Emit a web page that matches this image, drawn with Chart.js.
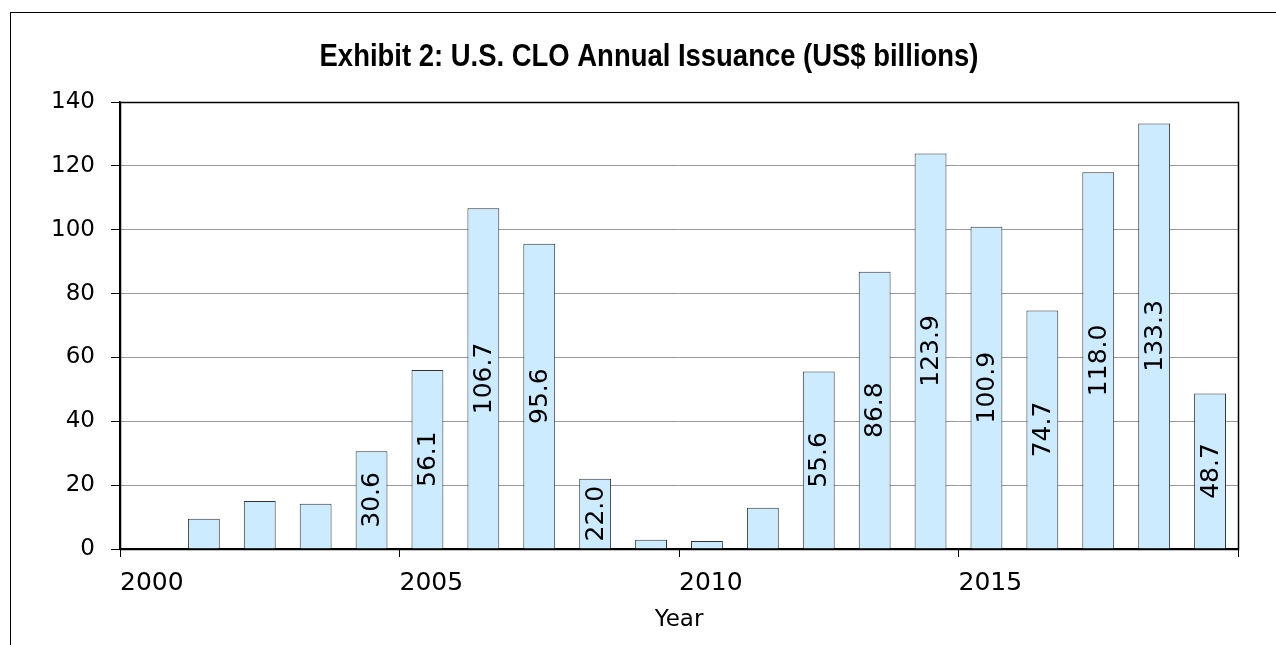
<!DOCTYPE html>
<html>
<head>
<meta charset="utf-8">
<script src="https://cdn.jsdelivr.net/npm/chart.js@4.4.1/dist/chart.umd.min.js"></script>
<style>
html,body{margin:0;padding:0;background:#fff;overflow:hidden;}
#wrap{position:absolute;left:0;top:0;width:1276px;height:645px;}
</style>
</head>
<body>
<div id="wrap"><canvas id="c" width="1276" height="645"></canvas></div>
<script>
const titleText = 'Exhibit 2: U.S. CLO Annual Issuance (US$ billions)';
const xAxisTitle = 'Year';
const years = [2001, 2002, 2003, 2004, 2005, 2006, 2007, 2008, 2009, 2010, 2011, 2012, 2013, 2014, 2015, 2016, 2017, 2018, 2019];
const issuance = [9.5, 15.0, 14.2, 30.6, 56.1, 106.7, 95.6, 22.0, 2.9, 2.5, 12.9, 55.6, 86.8, 123.9, 100.9, 74.7, 118.0, 133.3, 48.7];
const xTicks = [2000, 2005, 2010, 2015, 2020];
const yTicks = [0, 20, 40, 60, 80, 100, 120, 140];

const FONT = "'DejaVu Sans', Verdana, sans-serif";

// each year's bar spans the interval [year, year+1]
const points = years.map((yr, i) => ({x: yr + 0.5, y: issuance[i]}));

const framePlugin = {
  id: 'frame',
  beforeDraw(chart) {
    const ctx = chart.ctx;
    ctx.save();
    ctx.strokeStyle = '#000';
    ctx.lineWidth = 1;
    ctx.strokeRect(10.5, 12.5, 2000, 2000);
    ctx.font = "bold 30.5px 'Liberation Sans', Arial, sans-serif";
    ctx.fillStyle = '#000';
    ctx.textAlign = 'center';
    ctx.textBaseline = 'alphabetic';
    ctx.translate(649, 66);
    ctx.scale(0.9, 1);
    ctx.fillText(titleText, 0, 0);
    ctx.restore();
  },
  afterDatasetsDraw(chart) {
    const ctx = chart.ctx;
    const a = chart.chartArea;
    ctx.save();
    ctx.strokeStyle = '#000';
    ctx.lineWidth = 1.5;
    ctx.strokeRect(Math.round(a.left) + 0.5, Math.round(a.top) + 0.5, Math.round(a.right - a.left), Math.round(a.bottom - a.top));
    // value labels, centred in each bar, only where they fit
    const meta = chart.getDatasetMeta(0);
    ctx.font = "25px " + FONT;
    ctx.fillStyle = '#000';
    ctx.textAlign = 'center';
    ctx.textBaseline = 'middle';
    meta.data.forEach((bar, i) => {
      const txt = issuance[i].toFixed(1);
      const h = bar.base - bar.y;
      const w = ctx.measureText(txt).width;
      if (w + 8 > h) return;
      const cy = (bar.y + bar.base) / 2;
      ctx.save();
      ctx.translate(bar.x + 1, cy);
      ctx.rotate(-Math.PI / 2);
      ctx.fillText(txt, 0, 0);
      ctx.restore();
    });
    ctx.restore();
  }
};

new Chart(document.getElementById('c'), {
  type: 'bar',
  data: {
    datasets: [{
      data: points,
      backgroundColor: '#CCEBFF',
      borderColor: '#333',
      borderWidth: 1,
      barPercentage: 0.57,
      categoryPercentage: 1.0
    }]
  },
  options: {
    responsive: false,
    animation: false,
    events: [],
    layout: {padding: {top: 102, right: 38, left: 0, bottom: 0}},
    plugins: {legend: {display: false}, title: {display: false}, tooltip: {enabled: false}},
    scales: {
      x: {
        type: 'linear',
        min: 2000,
        max: 2020,
        offset: false,
        afterBuildTicks(scale) { scale.ticks = xTicks.map(v => ({value: v})); },
        afterFit(scale) { scale.height = 96; },
        grid: {offset: false, drawOnChartArea: false, color: '#000', tickColor: '#000', tickLength: 8, lineWidth: 1},
        border: {color: '#000', width: 1.5},
        ticks: {
          align: 'start',
          autoSkip: false,
          maxRotation: 0,
          padding: 11,
          color: '#000',
          font: {family: FONT, size: 25},
          callback: (v) => (v === 2020 ? '' : String(v))
        },
        title: {display: true, text: xAxisTitle, color: '#000', font: {family: FONT, size: 23}, padding: {top: 0, bottom: 11}}
      },
      y: {
        min: 0,
        max: 140,
        afterBuildTicks(scale) { scale.ticks = yTicks.map(v => ({value: v})); },
        afterFit(scale) { scale.width = 120; },
        grid: {color: '#9a9a9a', tickColor: '#000', tickLength: 9, lineWidth: 1},
        border: {color: '#000', width: 1.5},
        ticks: {padding: 16, color: '#000', font: {family: FONT, size: 23}}
      }
    }
  },
  plugins: [framePlugin]
});
</script>
</body>
</html>
